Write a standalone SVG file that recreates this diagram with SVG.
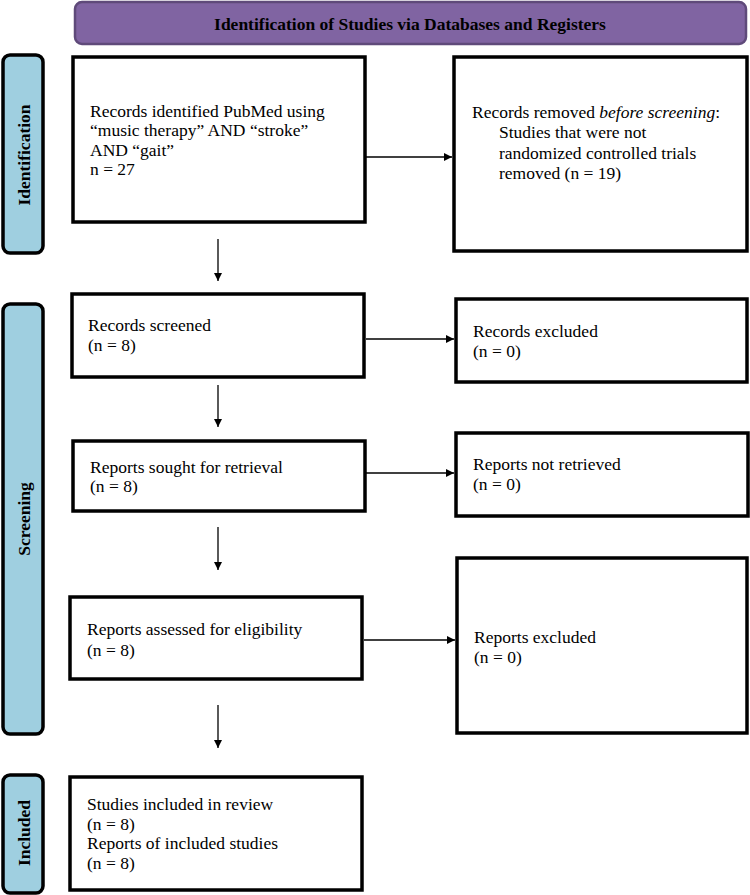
<svg xmlns="http://www.w3.org/2000/svg" width="750" height="895" viewBox="0 0 750 895">
<style>
.box{fill:#fff;stroke:#000;stroke-width:3.5}
.side{fill:#9fcfe0;stroke:#000;stroke-width:3.5}
.t{font-family:"Liberation Serif","Times New Roman",serif;font-size:17.5px;fill:#000}
.b{font-family:"Liberation Serif","Times New Roman",serif;font-size:17.5px;font-weight:bold;fill:#000}
.c{stroke:#000;stroke-width:1.3;fill:none;marker-end:url(#ah)}
</style>
<defs>
<marker id="ah" viewBox="0 0 10 10" refX="10" refY="5" markerWidth="8" markerHeight="8" markerUnits="userSpaceOnUse" orient="auto">
<path d="M0,0 L10,5 L0,10 z" fill="#000"/>
</marker>
</defs>
<g id="header">
<rect x="75" y="2" width="671" height="42" rx="7" fill="#8064a2" stroke="#5f4a7a" stroke-width="2.5"/>
<text class="b" x="410" y="30" text-anchor="middle">Identification of Studies via Databases and Registers</text>
</g>
<g id="side-identification">
<rect x="3" y="55" width="40" height="198" rx="7" class="side"/>
<text class="b" transform="translate(30,155) rotate(-90)" text-anchor="middle">Identification</text>
</g>
<g id="side-screening">
<rect x="3" y="304" width="40" height="430" rx="7" class="side"/>
<text class="b" transform="translate(30,519) rotate(-90)" text-anchor="middle">Screening</text>
</g>
<g id="side-included">
<rect x="3" y="775" width="40" height="118" rx="7" class="side"/>
<text class="b" transform="translate(30,833) rotate(-90)" text-anchor="middle">Included</text>
</g>
<g id="identified">
<rect x="73" y="57" width="292" height="165" class="box"/>
<text class="t" x="90" y="117">Records identified PubMed using</text>
<text class="t" x="90" y="136">“music therapy” AND “stroke”</text>
<text class="t" x="90" y="156">AND “gait”</text>
<text class="t" x="90" y="175">n = 27</text>
</g>
<g id="removed">
<rect x="454" y="57" width="293" height="194" class="box"/>
<text class="t" x="472" y="118">Records removed <tspan font-style="italic">before screening</tspan>:</text>
<text class="t" x="499" y="138">Studies that were not</text>
<text class="t" x="499" y="159">randomized controlled trials</text>
<text class="t" x="499" y="179">removed  (n = 19)</text>
</g>
<g id="screened">
<rect x="72" y="294" width="292" height="83" class="box"/>
<text class="t" x="88" y="331">Records screened</text>
<text class="t" x="88" y="351">(n = 8)</text>
</g>
<g id="excluded">
<rect x="456" y="299" width="291" height="83" class="box"/>
<text class="t" x="473" y="337">Records excluded</text>
<text class="t" x="473" y="357">(n = 0)</text>
</g>
<g id="sought">
<rect x="73" y="441" width="292" height="70" class="box"/>
<text class="t" x="90" y="473">Reports sought for retrieval</text>
<text class="t" x="90" y="492">(n = 8)</text>
</g>
<g id="not-retrieved">
<rect x="456" y="433" width="292" height="83" class="box"/>
<text class="t" x="473" y="470">Reports not retrieved</text>
<text class="t" x="473" y="490">(n = 0)</text>
</g>
<g id="assessed">
<rect x="70" y="597" width="292" height="82" class="box"/>
<text class="t" x="87" y="635">Reports assessed for eligibility</text>
<text class="t" x="87" y="656">(n = 8)</text>
</g>
<g id="reports-excluded">
<rect x="457" y="558" width="290" height="175" class="box"/>
<text class="t" x="474" y="643">Reports excluded</text>
<text class="t" x="474" y="663">(n = 0)</text>
</g>
<g id="included">
<rect x="70" y="777" width="292" height="113" class="box"/>
<text class="t" x="87" y="810">Studies included in review</text>
<text class="t" x="87" y="830">(n = 8)</text>
<text class="t" x="87" y="849">Reports of included studies</text>
<text class="t" x="87" y="869">(n = 8)</text>
</g>
<g id="connectors">
<line class="c" x1="366" y1="157" x2="452" y2="157"/>
<line class="c" x1="218" y1="239" x2="218" y2="281"/>
<line class="c" x1="366" y1="339" x2="454" y2="339"/>
<line class="c" x1="218" y1="385" x2="218" y2="427"/>
<line class="c" x1="366" y1="473" x2="454" y2="473"/>
<line class="c" x1="218" y1="527" x2="218" y2="570"/>
<line class="c" x1="364" y1="640" x2="455" y2="640"/>
<line class="c" x1="218" y1="705" x2="218" y2="748"/>
</g>
</svg>
